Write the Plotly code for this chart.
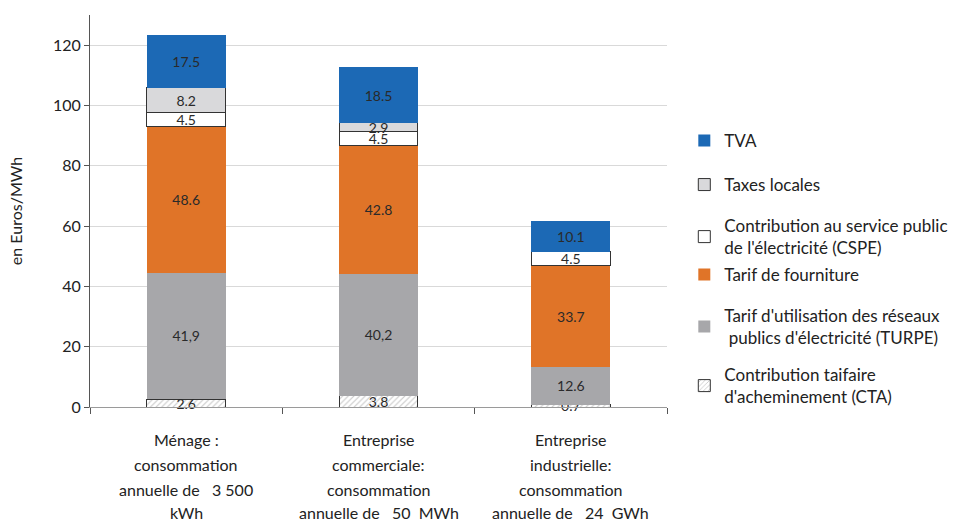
import plotly.graph_objects as go

categories = ["cat1", "cat2", "cat3"]
category_lines = [
    ["Ménage :", "consommation", "annuelle de \u00a0\u00a03\u00a0500", "kWh"],
    ["Entreprise", "commerciale:", "consommation", "annuelle de \u00a0\u00a050\u00a0\u00a0MWh"],
    ["Entreprise", "industrielle:", "consommation", "annuelle de \u00a0\u00a024\u00a0\u00a0GWh"],
]

cta = [2.6, 3.8, 0.7]
turpe = [41.9, 40.2, 12.6]
fourniture = [48.6, 42.8, 33.7]
cspe = [4.5, 4.5, 4.5]
taxes = [8.2, 2.9, None]
tva = [17.5, 18.5, 10.1]

cta_txt = ["2.6", "3.8", "0.7"]
turpe_txt = ["41,9", "40,2", "12.6"]
fourniture_txt = ["48.6", "42.8", "33.7"]
cspe_txt = ["4.5", "4.5", "4.5"]
taxes_txt = ["8.2", "2.9", ""]
tva_txt = ["17.5", "18.5", "10.1"]

series = [
    ("Contribution taifaire<br>d'acheminement (CTA)", cta, cta_txt, "white", "#333333", 1, "/"),
    ("Tarif d'utilisation des réseaux<br>\u00a0publics d'électricité (TURPE)", turpe, turpe_txt, "#a7a7aa", None, 0, ""),
    ("Tarif de fourniture", fourniture, fourniture_txt, "#e07428", None, 0, ""),
    ("Contribution au service public<br>de l'électricité (CSPE)", cspe, cspe_txt, "white", "#333333", 1, ""),
    ("Taxes locales", taxes, taxes_txt, "#d9d9db", "#333333", 1, ""),
    ("TVA", tva, tva_txt, "#1c69b5", None, 0, ""),
]

# legend vertical centres (pixel rows in a 524px-tall page), converted to paper coords below
legend_rows = [386, 327, 275, 237, 185, 141]

FONT = "Lato"
PLOT_TOP, PLOT_BOTTOM = 15, 407
PLOT_H = PLOT_BOTTOM - PLOT_TOP

fig = go.Figure()
legend_layouts = {}
for i, (name, vals, txt, color, lcolor, lw, pat) in enumerate(series):
    lg = "legend" if i == 0 else f"legend{i+1}"
    marker = dict(color=color, line=dict(color=lcolor or color, width=lw))
    if pat:
        marker["pattern"] = dict(shape=pat, fgcolor="#8a8a8a", bgcolor="white", size=4, solidity=0.25)
    fig.add_trace(go.Bar(
        x=categories, y=vals, name=name, text=txt,
        textposition="inside", insidetextanchor="middle", constraintext="none",
        textangle=0, textfont=dict(family=FONT, size=14, color="#2a2a2a"),
        marker=marker, width=0.41, legend=lg, hoverinfo="skip", cliponaxis=False,
    ))
    legend_layouts[lg] = dict(
        x=1.030, xanchor="left", y=(PLOT_BOTTOM - legend_rows[i]) / PLOT_H, yanchor="middle",
        bgcolor="rgba(0,0,0,0)", font=dict(family=FONT, size=17, color="#222222"),
        itemwidth=30,
    )

annotations = []
line_rows = [439, 464, 489, 512]
for i, lines in enumerate(category_lines):
    for j, line in enumerate(lines):
        annotations.append(dict(
            x=categories[i], xref="x", y=(PLOT_BOTTOM - line_rows[j]) / PLOT_H, yref="paper",
            text=line, showarrow=False, yanchor="middle", xanchor="center",
            font=dict(family=FONT, size=16, color="#222222"),
        ))

fig.update_layout(
    barmode="stack",
    width=965, height=524,
    margin=dict(l=90, r=290, t=PLOT_TOP, b=524 - PLOT_BOTTOM),
    paper_bgcolor="white", plot_bgcolor="white",
    font=dict(family=FONT, size=16, color="#222222"),
    showlegend=True,
    annotations=annotations,
    **legend_layouts,
)
fig.update_xaxes(
    showticklabels=False, showline=True, linecolor="#9a9a9a", linewidth=1,
    ticks="outside", tickson="boundaries", ticklen=6, tickcolor="#555555",
    showgrid=False,
)
fig.update_yaxes(
    range=[0, 130], dtick=20, tick0=0, showline=True, linecolor="#555555", linewidth=1,
    ticks="outside", ticklen=5, tickcolor="#555555", gridcolor="#d9d9d9",
    zeroline=False, tickfont=dict(family=FONT, size=16, color="#222222"),
    title=dict(text="en Euros/MWh", font=dict(family=FONT, size=16, color="#222222"), standoff=26),
)

fig.write_html("out.html")
